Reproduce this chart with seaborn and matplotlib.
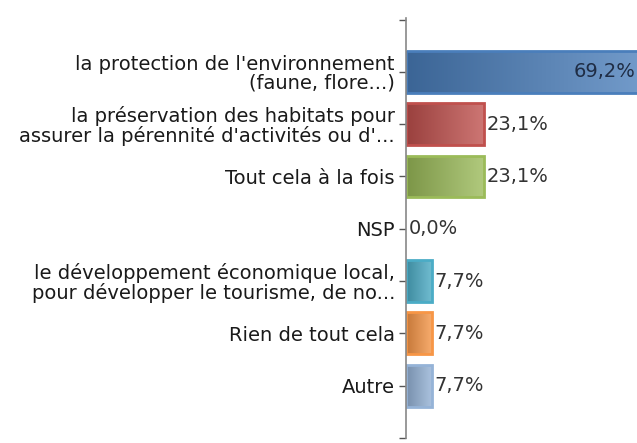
import numpy as np
import pandas as pd
import matplotlib
matplotlib.use("Agg")
import matplotlib.pyplot as plt
import matplotlib.colors as mcolors
import seaborn as sns

categories = [
    "la protection de l'environnement\n(faune, flore...)",
    "la préservation des habitats pour\nassurer la pérennité d'activités ou d'...",
    "Tout cela à la fois",
    "NSP",
    "le développement économique local,\npour développer le tourisme, de no...",
    "Rien de tout cela",
    "Autre",
]
values = [69.2, 23.1, 23.1, 0.0, 7.7, 7.7, 7.7]
colors = ["#4A7EBB", "#C0504D", "#9BBB59", "#8064A2", "#4BACC6", "#F79646", "#95B3D7"]

sns.set_theme(style="white")
plt.rcParams["font.family"] = ["DejaVu Sans"]

df = pd.DataFrame({"cat": categories, "val": values})

fig = plt.figure(figsize=(6.37, 4.43), dpi=100)
ax = fig.add_axes([406 / 637, 1 - 438 / 443, 1 - 406 / 637, (438 - 18) / 443])

sns.barplot(data=df, y="cat", x="val", hue="cat", palette=colors, order=categories,
            hue_order=categories, orient="h", width=0.8, legend=False, ax=ax,
            saturation=1)

xmax = 68.4
ax.set_xlim(0, xmax)
ax.set_ylim(6.97, -1.03)

# gradient fill on bars
for patch, col in zip(ax.patches, colors):
    x0, y0 = patch.get_x(), patch.get_y()
    w, h = patch.get_width(), patch.get_height()
    if w <= 0:
        continue
    base = np.array(mcolors.to_rgb(col))
    dark = base * 0.8
    light = base + (1 - base) * 0.22
    t = np.linspace(0, 1, 256)
    grad = dark[None, :] * (1 - t[:, None]) + light[None, :] * t[:, None]
    grad = np.clip(grad, 0, 1)[None, :, :]
    im = ax.imshow(grad, extent=[x0, x0 + w, y0 + h, y0], aspect="auto", zorder=2.5,
                   interpolation="bilinear")
    im.set_clip_path(patch)
    patch.set_edgecolor(col)
    patch.set_linewidth(2)
    patch.set_zorder(2.6)
    patch.set_facecolor("none")

ax.set_xlim(0, xmax)
ax.set_ylim(6.97, -1.03)

fs = 14
for i, v in enumerate(values):
    lab = f"{v:.1f}%".replace(".", ",")
    if v > xmax:
        ax.annotate(lab, xy=(xmax, i), xytext=(-1, 0), textcoords="offset points",
                    ha="right", va="center", fontsize=fs, color="#1F2D45", zorder=5,
                    annotation_clip=False)
    else:
        ax.annotate(lab, xy=(v, i), xytext=(2, 0), textcoords="offset points",
                    ha="left", va="center", fontsize=fs, color="#333333", zorder=5)

ax.set_xlabel("")
ax.set_ylabel("")
ax.set_xticks([])
ax.set_yticks(range(len(categories)))
ax.set_yticklabels(categories, fontsize=fs, color="#1a1a1a", linespacing=1.0)
ax.set_yticks([-1.0, 7.0], minor=True)
ax.tick_params(axis="y", which="both", left=True, length=5, width=1, color="#555555", pad=3)
for s in ["top", "right", "bottom"]:
    ax.spines[s].set_visible(False)
ax.spines["left"].set_color("#888888")
ax.spines["left"].set_linewidth(1.2)
ax.spines["left"].set_zorder(3)

fig.savefig("out.png", dpi=100)
